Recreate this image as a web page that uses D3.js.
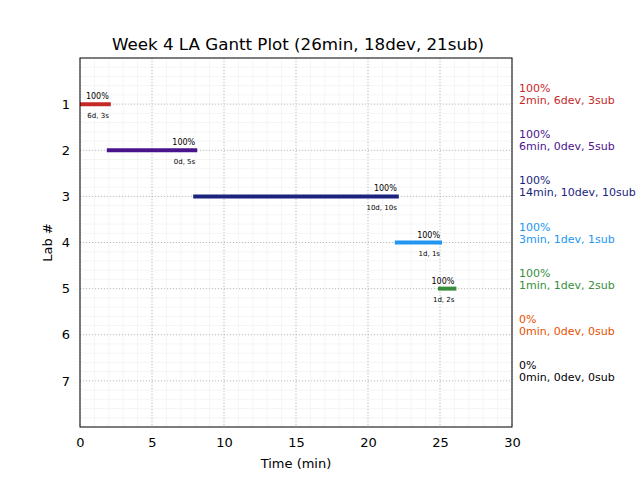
<!DOCTYPE html>
<html><head><meta charset="utf-8">
<script src="https://cdnjs.cloudflare.com/ajax/libs/d3/7.8.5/d3.min.js"></script>
<style>body{margin:0;background:#fff}svg{font-family:"DejaVu Sans",sans-serif}</style>
</head><body><svg id="c" width="640" height="480"></svg>
<script>
const labs = [1,2,3,4,5,6,7];
const starts = [0,2,8,22,25,null,null];
const ends = [2,8,22,25,26,null,null];
const pctLabels = ["100%","100%","100%","100%","100%","0%","0%"];
const barNotes = ["6d, 3s","0d, 5s","10d, 10s","1d, 1s","1d, 2s","",""];
const sideNotes = ["2min, 6dev, 3sub","6min, 0dev, 5sub","14min, 10dev, 10sub","3min, 1dev, 1sub","1min, 1dev, 2sub","0min, 0dev, 0sub","0min, 0dev, 0sub"];
const colors = ["#c62828","#4a148c","#1a237e","#2196f3","#388e3c","#e65100","#000000"];
const xTicks = [0,5,10,15,20,25,30];
const title = "Week 4 LA Gantt Plot (26min, 18dev, 21sub)";

const svg = d3.select("#c");
const L=80,R=512,T=58,B=427;
const x = d3.scaleLinear().domain([0,30]).range([L,R]);
const y = d3.scaleLinear().domain([0,8]).range([T,B]);

svg.append("defs").append("clipPath").attr("id","clip").append("rect").attr("x",L).attr("y",T).attr("width",R-L).attr("height",B-T);

// minor grid
const g = svg.append("g");
d3.range(0,30.001,1).forEach(v=>g.append("line").attr("x1",x(v)).attr("x2",x(v)).attr("y1",T).attr("y2",B).attr("stroke","#f3f3f3").attr("stroke-width",0.8));
d3.range(0,8.001,0.2).forEach(v=>g.append("line").attr("x1",L).attr("x2",R).attr("y1",y(v)).attr("y2",y(v)).attr("stroke","#f3f3f3").attr("stroke-width",0.8));
// major grid
xTicks.forEach(v=>g.append("line").attr("x1",x(v)).attr("x2",x(v)).attr("y1",T).attr("y2",B).attr("stroke","#b0b0b0").attr("stroke-width",0.8).attr("stroke-dasharray","1,2"));
labs.forEach(v=>g.append("line").attr("x1",L).attr("x2",R).attr("y1",y(v)).attr("y2",y(v)).attr("stroke","#b0b0b0").attr("stroke-width",0.8).attr("stroke-dasharray","1,2"));

// bars
const bars = svg.append("g").attr("clip-path","url(#clip)");
labs.forEach((lab,i)=>{
  if(starts[i]===null) return;
  bars.append("line").attr("x1",x(starts[i])).attr("x2",x(ends[i])).attr("y1",y(lab)).attr("y2",y(lab))
    .attr("stroke",colors[i]).attr("stroke-width",4).attr("stroke-linecap","square");
  svg.append("text").attr("x",x(ends[i])).attr("y",y(lab)-5).attr("text-anchor","end")
    .attr("font-size",8).attr("fill","#000").text(pctLabels[i]);
  svg.append("text").attr("x",x(ends[i])).attr("y",y(lab)+13.5).attr("text-anchor","end")
    .attr("font-size",7).attr("fill","#000").text(barNotes[i]);
});

// axes
svg.append("g").attr("transform",`translate(0,${B})`).call(d3.axisBottom(x).tickValues(xTicks).tickSize(0).tickPadding(11))
  .call(s=>{s.select(".domain").remove();s.selectAll("text").attr("font-size",13).attr("font-family","DejaVu Sans").attr("fill","#000");});
svg.append("g").attr("transform",`translate(${L},0)`).call(d3.axisLeft(y).tickValues(labs).tickSize(0).tickPadding(10).tickFormat(d3.format("d")))
  .call(s=>{s.select(".domain").remove();s.selectAll("text").attr("font-size",13).attr("font-family","DejaVu Sans").attr("fill","#000");});
svg.append("rect").attr("x",L).attr("y",T).attr("width",R-L).attr("height",B-T).attr("fill","none").attr("stroke","#000").attr("stroke-width",1);

// side notes
labs.forEach((lab,i)=>{
  const t = svg.append("text").attr("x",519).attr("y",y(lab)-12).attr("font-size",11).attr("fill",colors[i]);
  t.append("tspan").attr("x",519).attr("dy",0).text(pctLabels[i]);
  t.append("tspan").attr("x",519).attr("dy",12).text(sideNotes[i]);
});

svg.append("text").attr("x",(L+R)/2+2).attr("y",50).attr("text-anchor","middle").attr("font-size",16.7).text(title);
svg.append("text").attr("x",(L+R)/2).attr("y",468).attr("text-anchor","middle").attr("font-size",13).text("Time (min)");
svg.append("text").attr("transform",`translate(52,${(T+B)/2}) rotate(-90)`).attr("text-anchor","middle").attr("font-size",13).text("Lab #");
</script></body></html>
